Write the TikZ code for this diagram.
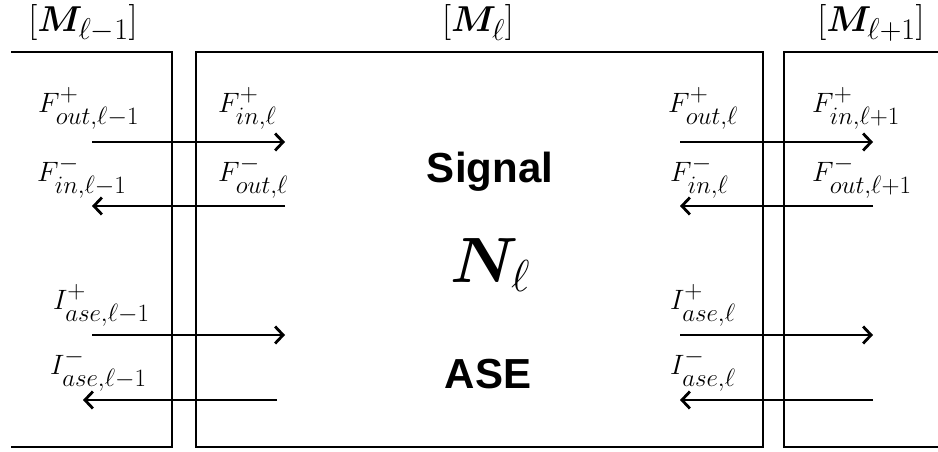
\RequirePackage{fix-cm}
\documentclass[tikz,border=0pt]{standalone}
\usepackage{amsmath,bm}
\usepackage[no-math]{fontspec}
\newfontfamily\sigfont{Liberation Sans}
\usetikzlibrary{arrows.meta}
\DeclareMathSizes{28}{28}{25}{20}
\DeclareMathSizes{36}{36}{30}{24}

\begin{document}
\begin{tikzpicture}[
x=1pt, y=-1pt,
wall/.style={line width=2.8pt},
flow/.style={line width=2.8pt, -{Straight Barb[length=8pt,width=17pt]}},
flux/.style={anchor=west, inner sep=0pt, font=\fontsize{28}{32}\selectfont},
mtitle/.style={inner sep=0pt, font=\fontsize{36}{42}\selectfont},
word/.style={anchor=base, inner sep=0pt, font=\fontsize{42}{48}\selectfont\sigfont\bfseries}
]
\useasboundingbox (0,0) rectangle (938,452);

% the three sections
\draw[wall] (11,52) -- (172,52) -- (172,447) -- (11,447);
\draw[wall] (196,52) rectangle (763,447);
\draw[wall] (938,52) -- (784,52) -- (784,447) -- (938,447);

% section titles
\node[mtitle] (mprev) at (83,23) {$[\bm{M}_{\ell-1}]$};
\node[mtitle] (mcur) at (478,23) {$[\bm{M}_{\ell}]$};
\node[mtitle] (mnext) at (871,23) {$[\bm{M}_{\ell+1}]$};

% centre texts
\node[word] (signal) at (490,182) {Signal};
\node[inner sep=0pt, anchor=base west, font=\fontsize{64}{70}\selectfont] (nl) at (450,282) {$\bm{N}_{\ell}$};
\node[word] (ase) at (488,388) {ASE};

% ends of the left flows
\coordinate (sfl0) at (92,142);  \coordinate (sfl1) at (285,142);
\coordinate (sbl1) at (285,206); \coordinate (sbl0) at (92,206);
\coordinate (afl0) at (92,335);  \coordinate (afl1) at (285,335);
\coordinate (abl1) at (277,400); \coordinate (abl0) at (83,400);

% ends of the right flows
\coordinate (sfr0) at (680,142); \coordinate (sfr1) at (873,142);
\coordinate (sbr1) at (873,206); \coordinate (sbr0) at (680,206);
\coordinate (afr0) at (680,335); \coordinate (afr1) at (873,335);
\coordinate (abr1) at (873,400); \coordinate (abr0) at (680,400);

\draw[flow] (sfl0) -- (sfl1);
\draw[flow] (sbl1) -- (sbl0);
\draw[flow] (afl0) -- (afl1);
\draw[flow] (abl1) -- (abl0);
\draw[flow] (sfr0) -- (sfr1);
\draw[flow] (sbr1) -- (sbr0);
\draw[flow] (afr0) -- (afr1);
\draw[flow] (abr1) -- (abr0);

% flow labels, left
\node[flux] (fpoutprev) at (38,108) {$F^{+}_{out,\ell-1}$};
\node[flux] (fpincur) at (218,108) {$F^{+}_{in,\ell}$};
\node[flux] (fminprev) at (37,177) {$F^{-}_{in,\ell-1}$};
\node[flux] (fmoutcur) at (218,177) {$F^{-}_{out,\ell}$};
\node[flux] (iprev) at (53,305) {$I^{+}_{ase,\ell-1}$};
\node[flux] (imprev) at (50,370) {$I^{-}_{ase,\ell-1}$};

% flow labels, right
\node[flux] (fpoutcur) at (668,108) {$F^{+}_{out,\ell}$};
\node[flux] (fpinnext) at (812,108) {$F^{+}_{in,\ell+1}$};
\node[flux] (fmincur) at (670,177) {$F^{-}_{in,\ell}$};
\node[flux] (fmoutnext) at (812,177) {$F^{-}_{out,\ell+1}$};
\node[flux] (ipcur) at (670,305) {$I^{+}_{ase,\ell}$};
\node[flux] (imcur) at (670,370) {$I^{-}_{ase,\ell}$};

\end{tikzpicture}
\end{document}
